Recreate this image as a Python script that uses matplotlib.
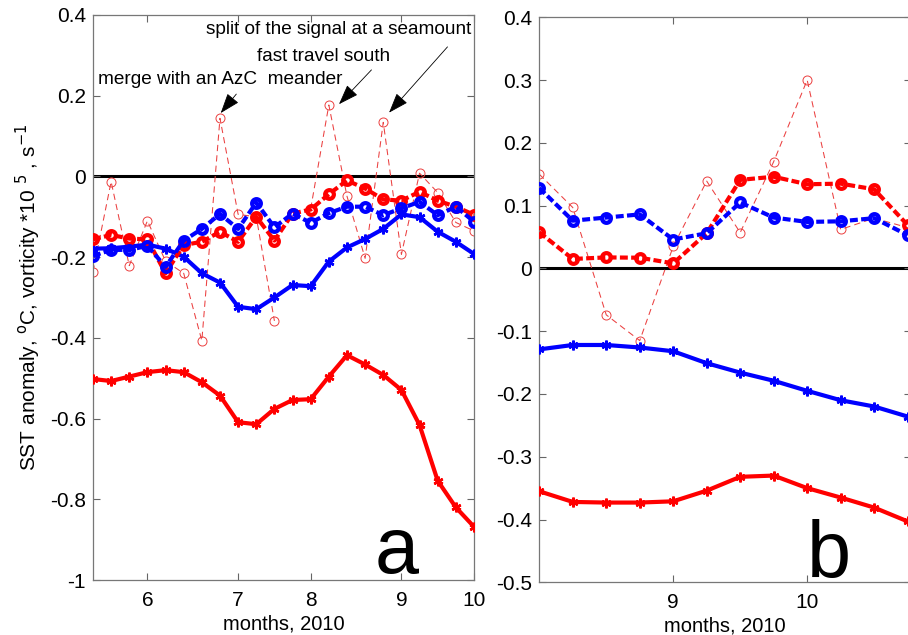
import numpy as np
import matplotlib
matplotlib.use('Agg')
import matplotlib.pyplot as plt

plt.rcParams['font.family'] = ['Liberation Sans', 'DejaVu Sans']
plt.rcParams['axes.unicode_minus'] = False
plt.rcParams['lines.scale_dashes'] = True

nan = np.nan

# panel a: 22 samples, ticks at month starts
a_ticks = [3, 8, 12, 17, 21]
a_ticklabels = ['6', '7', '8', '9', '10']
a_sst_red = [-0.502, -0.507, -0.496, -0.485, -0.480, -0.485, -0.510, -0.543, -0.609, -0.614, -0.576,
             -0.554, -0.552, -0.496, -0.443, -0.466, -0.492, -0.529, -0.616, -0.754, -0.820, -0.868]
a_sst_blue = [-0.179, -0.178, -0.174, -0.169, -0.179, -0.199, -0.240, -0.263, -0.323, -0.329, -0.300,
              -0.269, -0.272, -0.211, -0.176, -0.155, -0.130, -0.094, -0.101, -0.137, -0.162, -0.192]
a_vort_red = [-0.156, -0.145, -0.154, -0.156, -0.240, -0.170, -0.162, -0.137, -0.162, -0.100, -0.159,
              -0.092, -0.082, -0.044, -0.010, -0.030, -0.057, -0.060, -0.038, -0.060, -0.075, -0.095]
a_vort_blue = [-0.197, -0.182, -0.182, -0.172, -0.224, -0.159, -0.130, -0.093, -0.130, -0.065, -0.126,
               -0.092, -0.115, -0.091, -0.075, -0.075, -0.096, -0.079, -0.063, -0.096, -0.075, -0.112]
a_thin = [-0.236, -0.013, -0.221, -0.110, -0.210, -0.240, -0.407, 0.144, -0.094, -0.100, -0.358,
          nan, -0.080, 0.177, -0.049, -0.203, 0.134, -0.193, 0.008, -0.040, -0.114, -0.135]

# panel b: 12 samples
b_ticks = [4, 8]
b_ticklabels = ['9', '10']
b_sst_red = [-0.355, -0.372, -0.373, -0.373, -0.371, -0.354, -0.332, -0.330, -0.350, -0.365, -0.381, -0.403]
b_sst_blue = [-0.129, -0.122, -0.122, -0.126, -0.132, -0.151, -0.166, -0.179, -0.195, -0.210, -0.220, -0.236]
b_vort_red = [0.0575, 0.015, 0.0175, 0.017, 0.008, 0.056, 0.141, 0.146, 0.134, 0.135, 0.126, 0.069]
b_vort_blue = [0.128, 0.076, 0.081, 0.086, 0.046, 0.056, 0.105, 0.081, 0.074, 0.075, 0.080, 0.053]
b_thin = [0.150, 0.097, -0.074, -0.115, 0.035, 0.139, 0.057, 0.170, 0.300, 0.062, 0.080, 0.065]

ylabel = r'SST anomaly, $^{\rm o}$C, vorticity *10 $^{\rm 5}$ , s$^{{-}1}$'

fig = plt.figure(figsize=(9.08, 6.35), dpi=100)
ax1 = fig.add_axes([0.1024, 0.0866, 0.4196, 0.8898])
ax2 = fig.add_axes([0.5939, 0.0830, 0.4094, 0.8898])

asterisk = (6, 2, 0)
thin_red = (0.92, 0.25, 0.25)


def draw(ax, thin, sst_r, sst_b, vr, vb):
    x = np.arange(len(sst_r))
    ax.axhline(0, color='k', lw=2.2, zorder=1)
    ax.plot(x, thin, color=thin_red, lw=0.75, ls=(0, (6, 4)), marker='o', ms=6.5,
            mfc='none', mew=0.7, zorder=2)
    ax.plot(x, sst_r, color='red', lw=3, marker=asterisk, ms=7, mew=1.8, zorder=3)
    ax.plot(x, sst_b, color='blue', lw=3, marker=asterisk, ms=7, mew=1.8, zorder=3)
    ax.plot(x, vr, color='red', lw=3, ls=(0, (1.9, 0.8)), marker='o', ms=6.3,
            mfc='none', mew=3, zorder=4)
    ax.plot(x, vb, color='blue', lw=3, ls=(0, (1.9, 0.8)), marker='o', ms=6.3,
            mfc='none', mew=3, zorder=5)


draw(ax1, a_thin, a_sst_red, a_sst_blue, a_vort_red, a_vort_blue)
draw(ax2, b_thin, b_sst_red, b_sst_blue, b_vort_red, b_vort_blue)

ax1.set_xlim(0, 21)
ax1.set_ylim(-1, 0.4)
ax1.set_xticks(a_ticks)
ax1.set_xticklabels(a_ticklabels)
ax1.set_yticks([-1, -0.8, -0.6, -0.4, -0.2, 0, 0.2, 0.4])
ax1.set_yticklabels(['-1', '-0.8', '-0.6', '-0.4', '-0.2', '0', '0.2', '0.4'])
ax1.set_ylabel(ylabel, fontsize=15, labelpad=5)

ax2.set_xlim(0, 11.1)
ax2.set_ylim(-0.5, 0.4)
ax2.set_xticks(b_ticks)
ax2.set_xticklabels(b_ticklabels)
ax2.set_yticks([-0.5, -0.4, -0.3, -0.2, -0.1, 0, 0.1, 0.2, 0.3, 0.4])
ax2.set_yticklabels(['-0.5', '-0.4', '-0.3', '-0.2', '-0.1', '0', '0.1', '0.2', '0.3', '0.4'])

for ax in (ax1, ax2):
    ax.set_xlabel('months, 2010', fontsize=14.5, labelpad=3)
    ax.tick_params(direction='in', top=True, right=True, length=5, width=0.8,
                   color='#666666', labelsize=15, labelcolor='k')
    ax.tick_params(axis='y', pad=5)
    ax.tick_params(axis='x', pad=8)
    for s in ax.spines.values():
        s.set_color('#777777')
        s.set_linewidth(0.9)

ax1.text(15.55, -0.983, 'a', fontsize=57, va='baseline', ha='left')
ax2.text(8.0, -0.4916, 'b', fontsize=57, va='baseline', ha='left')

# annotations
ax1.text(0.3, 0.239, 'merge with an AzC  meander', fontsize=13.7, va='center', ha='left')
ax1.text(9.05, 0.296, 'fast travel south', fontsize=13.7, va='center', ha='left')
ax1.text(6.25, 0.363, 'split of the signal at a seamount', fontsize=13.7, va='center', ha='left',
         clip_on=False)

arrow = dict(arrowstyle='-|>,head_length=0.7,head_width=0.25', color='k', lw=0.6,
             mutation_scale=18, shrinkA=0, shrinkB=0)
ax1.annotate('', xy=(7.04, 0.157), xytext=(7.90, 0.204), arrowprops=arrow)
ax1.annotate('', xy=(13.56, 0.179), xytext=(15.35, 0.264), arrowprops=arrow)
ax1.annotate('', xy=(16.32, 0.158), xytext=(19.54, 0.321), arrowprops=arrow)

fig.savefig('out.png', dpi=100, facecolor='white')
